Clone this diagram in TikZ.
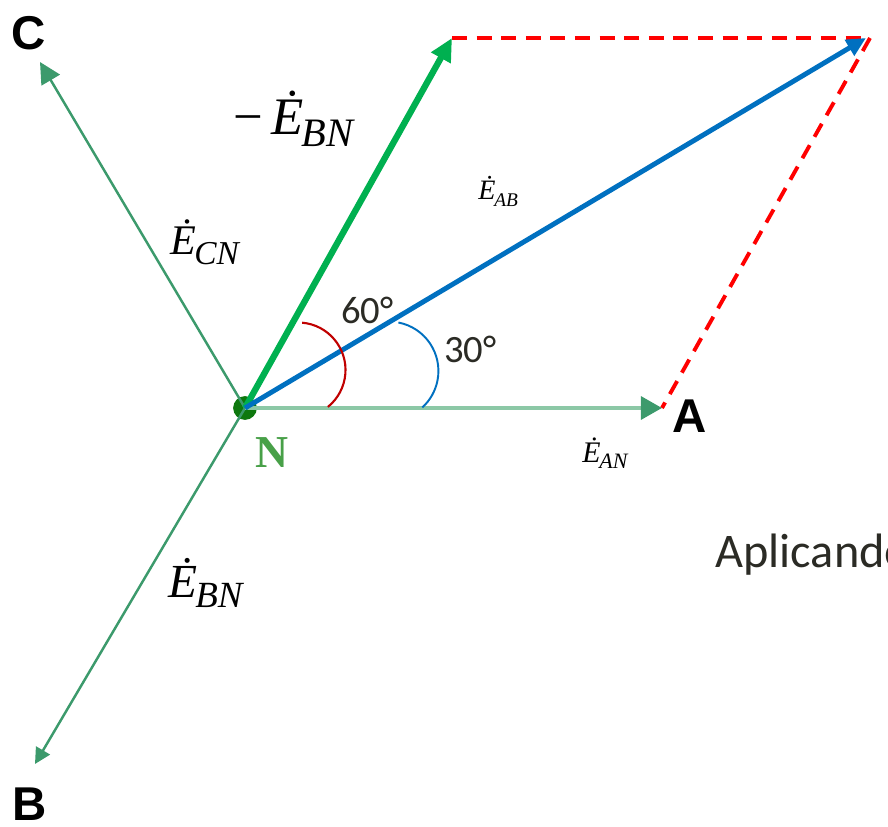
\documentclass[tikz,border=0pt]{standalone}
\usepackage{fontspec}
\setmainfont{Liberation Serif}
\newfontfamily\labelfont{Liberation Sans}
\newfontfamily\notefont{Carlito}
\usepackage{tikz}
\usetikzlibrary{arrows.meta}
\usepackage{xcolor}
\definecolor{PhaseGreen}{HTML}{3C9A6C}
\definecolor{PhaseLight}{HTML}{8CC8A6}
\definecolor{DotGreen}{HTML}{0E780E}
\definecolor{NGreen}{HTML}{48A048}
\definecolor{SumGreen}{HTML}{00B050}
\definecolor{SumBlue}{HTML}{0070C0}
\definecolor{ArcRed}{HTML}{C00000}
\definecolor{TextGray}{HTML}{2B2B25}

\newcommand{\phasor}[3]{\fontsize{#2}{#2}\selectfont\itshape Ė\kern-0.04em\raisebox{-0.22em}{\fontsize{#3}{#3}\selectfont #1}}

\begin{document}
\begin{tikzpicture}[
    x=0.02cm, y=-0.02cm,
    every node/.style={
        inner sep=0pt,
        anchor=base west,
        text=black
    },
    phase/.style={
        draw=PhaseGreen,
        line width=1.4pt,
        -{Triangle[length=12pt,width=12pt]}
    },
    sumline/.style={
        line width=3.3pt,
        -{Triangle[length=13pt,width=12pt]}
    },
    helper/.style={
        draw=red,
        line width=2.2pt,
        dash pattern=on 8.5pt off 5.5pt
    }
]
\useasboundingbox (0,0) rectangle (888,827);
\clip (0,0) rectangle (888,827);

\node[circle, fill=DotGreen, minimum size=13.5pt, anchor=center] (N) at (245,408) {};

\coordinate (A) at (662,408);
\coordinate (B) at (35,764);
\coordinate (C) at (40,62);
\coordinate (G) at (452,38);
\coordinate (S) at (866,38);
\coordinate (R) at (870,38);

\draw[helper] (G) -- (R);
\draw[helper] (R) -- (A);

\draw[phase] (N.center) -- (C);
\draw[phase, -{Triangle[length=9pt,width=9pt]}] (N.center) -- (B);
\draw[phase, draw=PhaseLight, line width=2.2pt, -{Triangle[length=12pt,width=13pt,color=PhaseGreen]}] (N.center) -- (A);

\draw[sumline, draw=SumGreen, line width=3.6pt] (N.center) -- (G);
\draw[sumline, draw=SumBlue, line width=2.8pt, -{Triangle[length=11pt,width=10pt]}] (N.center) -- (S);

\draw[ArcRed, line width=1.2pt] (298,370) ++(-85:47.5) arc[start angle=-85, end angle=51, radius=47.5];
\draw[SumBlue, line width=1.1pt] (389,371) ++(-79:49.4) arc[start angle=-79, end angle=47.5, radius=49.4];

\node (mEBN) at (233,135) {{\fontsize{30pt}{30pt}\selectfont −\,}\phasor{BN}{30pt}{23pt}};
\node (ECN) at (170,255) {\phasor{CN}{24pt}{19pt}};
\node (EAB) at (478,200) {\phasor{AB}{16pt}{11pt}};
\node (EAN) at (582,462) {\phasor{AN}{17pt}{12.5pt}};
\node (EBN) at (168,597) {\phasor{BN}{27pt}{21pt}};

\node[text=TextGray] (ang60) at (341,323) {\notefont\fontsize{22pt}{22pt}\selectfont 60°};
\node[text=TextGray] (ang30) at (444,362) {\notefont\fontsize{22pt}{22pt}\selectfont 30°};

\node (lblA) at (672,432) {\labelfont\bfseries\fontsize{27pt}{27pt}\selectfont A};
\node (lblB) at (12,820) {\labelfont\bfseries\fontsize{27pt}{27pt}\selectfont B};
\node (lblC) at (11,50) {\labelfont\bfseries\fontsize{27pt}{27pt}\selectfont C};
\node[text=NGreen] (lblN) at (255,467) {\bfseries\fontsize{26pt}{26pt}\selectfont N};

\node[text=TextGray] (note) at (715,567) {\notefont\fontsize{27.5pt}{27.5pt}\selectfont Aplicando};

\end{tikzpicture}
\end{document}
